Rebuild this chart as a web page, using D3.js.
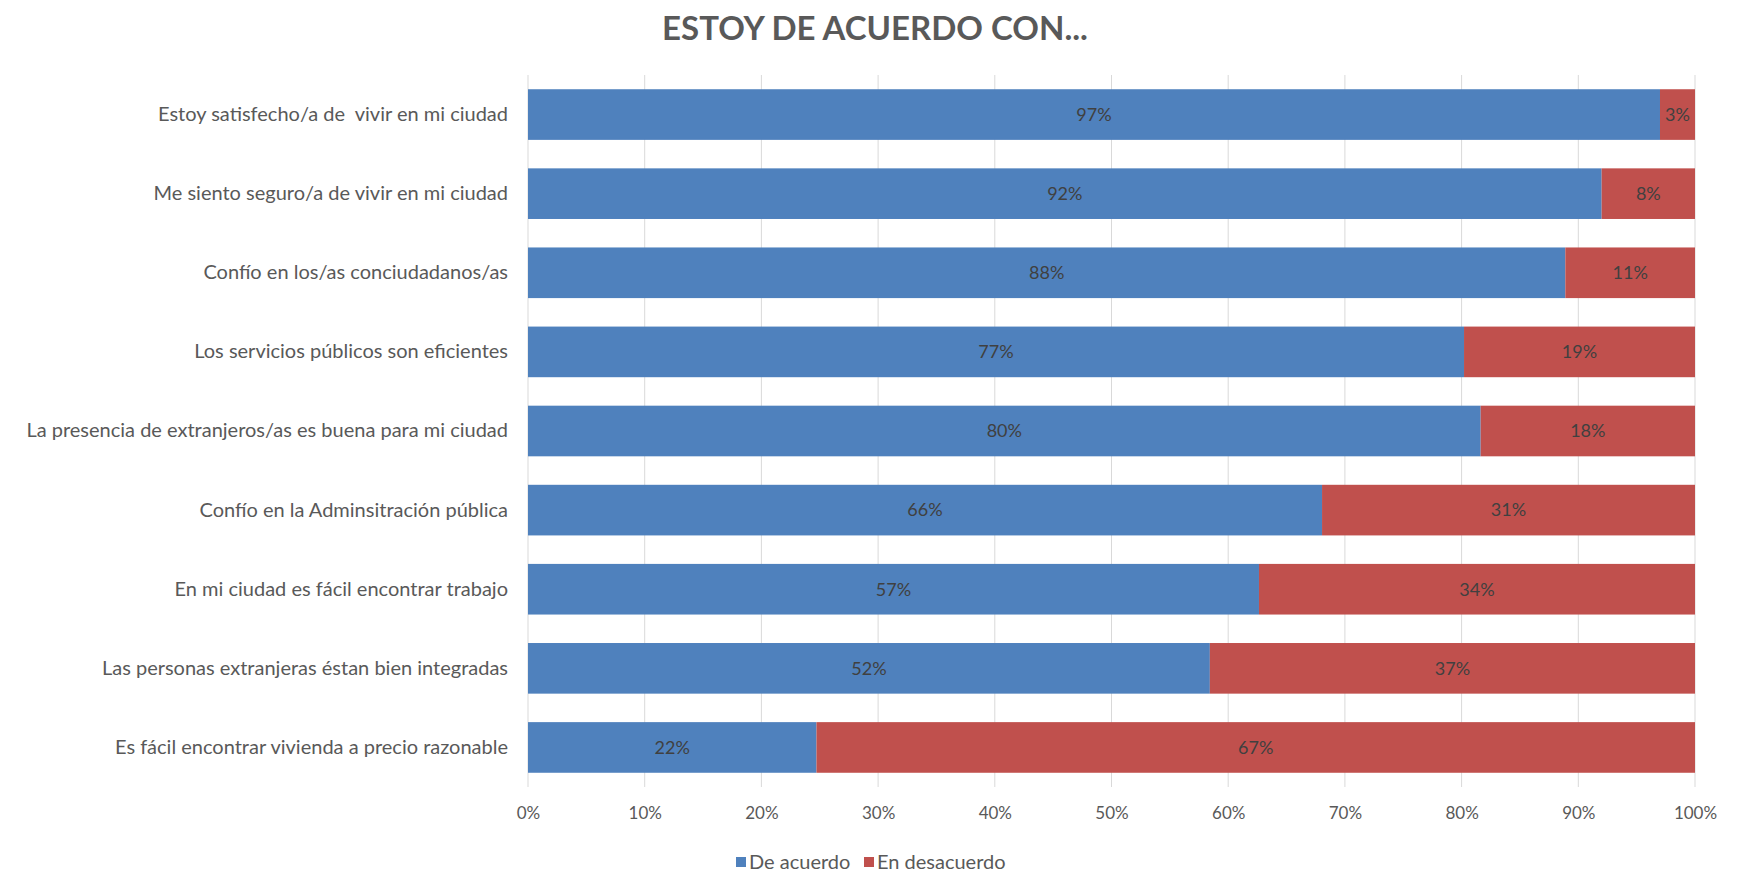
<!DOCTYPE html>
<html>
<head>
<meta charset="utf-8">
<script src="https://cdn.jsdelivr.net/npm/d3@7"></script>
<style>
  body { margin: 0; background: #fff; }
  text { font-family: Lato, "Open Sans", sans-serif; white-space: pre; }
</style>
</head>
<body>
<div id="output"></div>
<script>
(function () {

"use strict";

var categories = [
  "Estoy satisfecho/a de  vivir en mi ciudad",
  "Me siento seguro/a de vivir en mi ciudad",
  "Confío en los/as conciudadanos/as",
  "Los servicios públicos son eficientes",
  "La presencia de extranjeros/as es buena para mi ciudad",
  "Confío en la Adminsitración pública",
  "En mi ciudad es fácil encontrar trabajo",
  "Las personas extranjeras éstan bien integradas",
  "Es fácil encontrar vivienda a precio razonable"
]
var deAcuerdo    = [97, 92, 88, 77, 80, 66, 57, 52, 22]
var enDesacuerdo = [3, 8, 11, 19, 18, 31, 34, 37, 67]
var seriesNames  = ["De acuerdo", "En desacuerdo"]
var tickValues   = [0, 0.1, 0.2, 0.3, 0.4, 0.5, 0.6, 0.7, 0.8, 0.9, 1]
var title = "ESTOY DE ACUERDO CON..."

var width = 1749
  , height = 873
  , margin = { left: 528, right: 54, top: 75, bottom: 86 }
  , colors = ["#4f81bd", "#c0504d"]

var svg = d3.select("#output").append("svg").attr("width", width).attr("height", height)

var rows = categories.map(function (c, i) {
  return { cat: c, "De acuerdo": deAcuerdo[i], "En desacuerdo": enDesacuerdo[i] }
})

var stacked = d3.stack().keys(seriesNames).offset(d3.stackOffsetExpand)(rows)

var x = d3.scaleLinear().domain([0, 1]).range([margin.left, width - margin.right])
var y = d3.scaleBand().domain(categories).range([margin.top, height - margin.bottom]).paddingInner(0.36).paddingOuter(0.18)

// Title
svg.append("text")
  .attr("x", 875).attr("y", 40)
  .attr("text-anchor", "middle")
  .style("font-size", "33px").style("font-weight", "bold").style("fill", "#595959")
  .text(title)

// Gridlines
svg.append("g")
  .selectAll("line").data(tickValues).enter()
  .append("line")
  .attr("x1", function (d) { return x(d) }).attr("x2", function (d) { return x(d) })
  .attr("y1", margin.top).attr("y2", height - margin.bottom)
  .style("stroke", "#d9d9d9").style("stroke-width", 1)

// X axis labels
var xAxis = svg.append("g")
  .attr("transform", "translate(0," + (height - margin.bottom) + ")")
  .call(d3.axisBottom(x).tickValues(tickValues).tickFormat(d3.format(".0%")).tickSize(0).tickPadding(20))
xAxis.select(".domain").remove()
xAxis.selectAll("text").style("font-size", "17px").style("fill", "#595959").style("font-family", "Lato, sans-serif")

// Category labels
var yAxis = svg.append("g")
  .attr("transform", "translate(" + (margin.left - 20) + ",0)")
  .call(d3.axisLeft(y).tickSize(0).tickPadding(0))
yAxis.select(".domain").remove()
yAxis.selectAll("text").style("font-size", "20px").style("fill", "#595959").style("font-family", "Lato, sans-serif")

// Bars
var layers = svg.append("g").selectAll("g").data(stacked).enter()
  .append("g").style("fill", function (d, i) { return colors[i] })

layers.selectAll("rect").data(function (d) { return d }).enter()
  .append("rect")
  .attr("x", function (d) { return x(d[0]) })
  .attr("y", function (d) { return y(d.data.cat) })
  .attr("width", function (d) { return x(d[1]) - x(d[0]) })
  .attr("height", y.bandwidth())

// Data labels
layers.selectAll("text").data(function (d) { return d.map(function (p) { p.key = d.key; return p }) }).enter()
  .append("text")
  .attr("x", function (d) { return (x(d[0]) + x(d[1])) / 2 })
  .attr("y", function (d) { return y(d.data.cat) + y.bandwidth() / 2 })
  .attr("dy", "0.35em")
  .attr("text-anchor", "middle")
  .style("font-size", "18px").style("fill", "#404040")
  .text(function (d) { return d.data[d.key] + "%" })

// Legend
var legend = svg.append("g").attr("transform", "translate(736," + 862 + ")")
var legendX = [0, 128]
seriesNames.forEach(function (name, i) {
  legend.append("rect")
    .attr("x", legendX[i]).attr("y", -5).attr("width", 10).attr("height", 10)
    .style("fill", colors[i])
  legend.append("text")
    .attr("x", legendX[i] + 13).attr("y", 0).attr("dy", "0.35em")
    .style("font-size", "20px").style("fill", "#595959")
    .text(name)
})

}())
</script>
</body>
</html>
